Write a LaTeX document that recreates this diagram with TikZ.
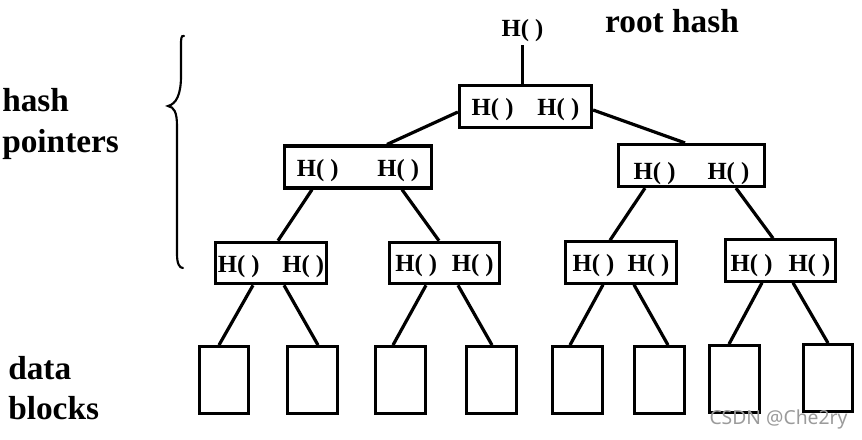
\documentclass[tikz,border=0pt]{standalone}
\usepackage{fontspec}
\setmainfont{Liberation Serif}
\newfontfamily\wmfont{Noto Sans}
\usetikzlibrary{calc}

\newcommand{\hh}{H( )}
\definecolor{wmgray}{RGB}{155,155,155}

\tikzset{
  hashbox/.style={draw, line width=2.4pt, inner sep=0pt, minimum height=31.5pt,
    text height=12.9pt, text depth=0pt, font=\bfseries\fontsize{18.5}{20}\selectfont},
  datablock/.style={draw, line width=2.4pt, inner sep=0pt, minimum width=37pt, minimum height=50pt},
  link/.style={line width=2.4pt},
  bigtext/.style={font=\bfseries\fontsize{25}{30.5}\selectfont, align=left, inner sep=0pt}
}

\begin{document}
\begin{tikzpicture}[x=0.75pt, y=-0.75pt]
    \useasboundingbox (0,0) rectangle (862,439);
    % Labels
    \node[bigtext] (roottxt) at (672,21) {root hash};
    \node[bigtext, anchor=west] (ptrtxt) at (2,124) {hash\\pointers};
    \node[bigtext, anchor=west] (datatxt) at (8,388) {data\\blocks};
    % Root hash
    \node[font=\bfseries\fontsize{18.5}{20}\selectfont, inner sep=2pt] (toph) at (522.5,31) {\hh};
    \node[hashbox, minimum width=99pt] (root) at (525.5,106.5) {\hh\hspace{18pt}\hh};
    % Second level
    \node[hashbox, minimum width=110pt, text height=14.4pt] (hl) at (358,167) {\hh\hspace{29pt}\hh\hspace{9pt}};
    \node[hashbox, minimum width=109.5pt, text height=20.4pt] (hr) at (691.5,165.5) {\hh\hspace{24pt}\hh\hspace{4pt}};
    % Third level
    \node[hashbox, minimum width=83pt, minimum height=31pt, text height=14.4pt] (ha) at (271,263) {\hh\hspace{17pt}\hh};
    \node[hashbox, minimum width=83pt, minimum height=31pt] (hb) at (444.5,263) {\hh\hspace{11pt}\hh};
    \node[hashbox, minimum width=83pt, minimum height=31pt] (hc) at (621,262.5) {\hh\hspace{10pt}\hh};
    \node[hashbox, minimum width=83pt, minimum height=31pt, text height=15.9pt] (hd) at (780.5,260.5) {\hh\hspace{12pt}\hh};
    % Data blocks
    \node[datablock] (d1) at (224,380) {};
    \node[datablock] (d2) at (312.5,380) {};
    \node[datablock] (d3) at (400.5,380) {};
    \node[datablock] (d4) at (491.5,380) {};
    \node[datablock] (d5) at (577.5,380) {};
    \node[datablock] (d6) at (659.5,380) {};
    \node[datablock] (d7) at (734.5,379) {};
    \node[datablock] (d8) at (828,378) {};
    % Hash pointers
    \draw[link] (toph.south) -- (toph.south |- root.north);
    \draw[link] ($(root.west)+(0,5.5)$) -- ($(hl.north)+(29,0)$);
    \draw[link] ($(root.east)+(0,3.5)$) -- ($(hr.north)+(-6.5,0)$);
    \draw[link] ($(hl.south)+(-46,0)$) -- ($(ha.north)+(7,0)$);
    \draw[link] ($(hl.south)+(44,0)$) -- ($(hb.north)+(-5.5,0)$);
    \draw[link] ($(hr.south)+(-46.5,0)$) -- ($(hc.north)+(-11,0)$);
    \draw[link] ($(hr.south)+(44.5,0)$) -- ($(hd.north)+(-7.5,0)$);
    \draw[link] ($(ha.south)+(-18,0)$) -- ($(d1.north)+(-5,0)$);
    \draw[link] ($(ha.south)+(13,0)$) -- ($(d2.north)+(5.5,0)$);
    \draw[link] ($(hb.south)+(-18.5,0)$) -- ($(d3.north)+(-7.5,0)$);
    \draw[link] ($(hb.south)+(13.5,0)$) -- ($(d4.north)+(0.5,0)$);
    \draw[link] ($(hc.south)+(-18,0)$) -- ($(d5.north)+(-7.5,0)$);
    \draw[link] ($(hc.south)+(13,0)$) -- ($(d6.north)+(8.5,0)$);
    \draw[link] ($(hd.south)+(-18.5,0)$) -- ($(d7.north)+(-5.5,0)$);
    \draw[link] ($(hd.south)+(12.5,0)$) -- ($(d8.north)+(0,0)$);
    % Brace
    \draw[line width=1.6pt, line cap=round] (184,36) .. controls (181,35) and (181,39) .. (181,46)
        -- (181,76) .. controls (181,95) and (176,104) .. (168,106)
        .. controls (174,107) and (177,112) .. (177,126)
        -- (177,254) .. controls (177,263) and (179,268) .. (183,268);
    % Watermark
    \node[font=\wmfont\fontsize{14.5}{16}\selectfont, text=wmgray, inner sep=0pt] (wm) at (778.5,419) {CSDN @Che2ry};
\end{tikzpicture}
\end{document}
